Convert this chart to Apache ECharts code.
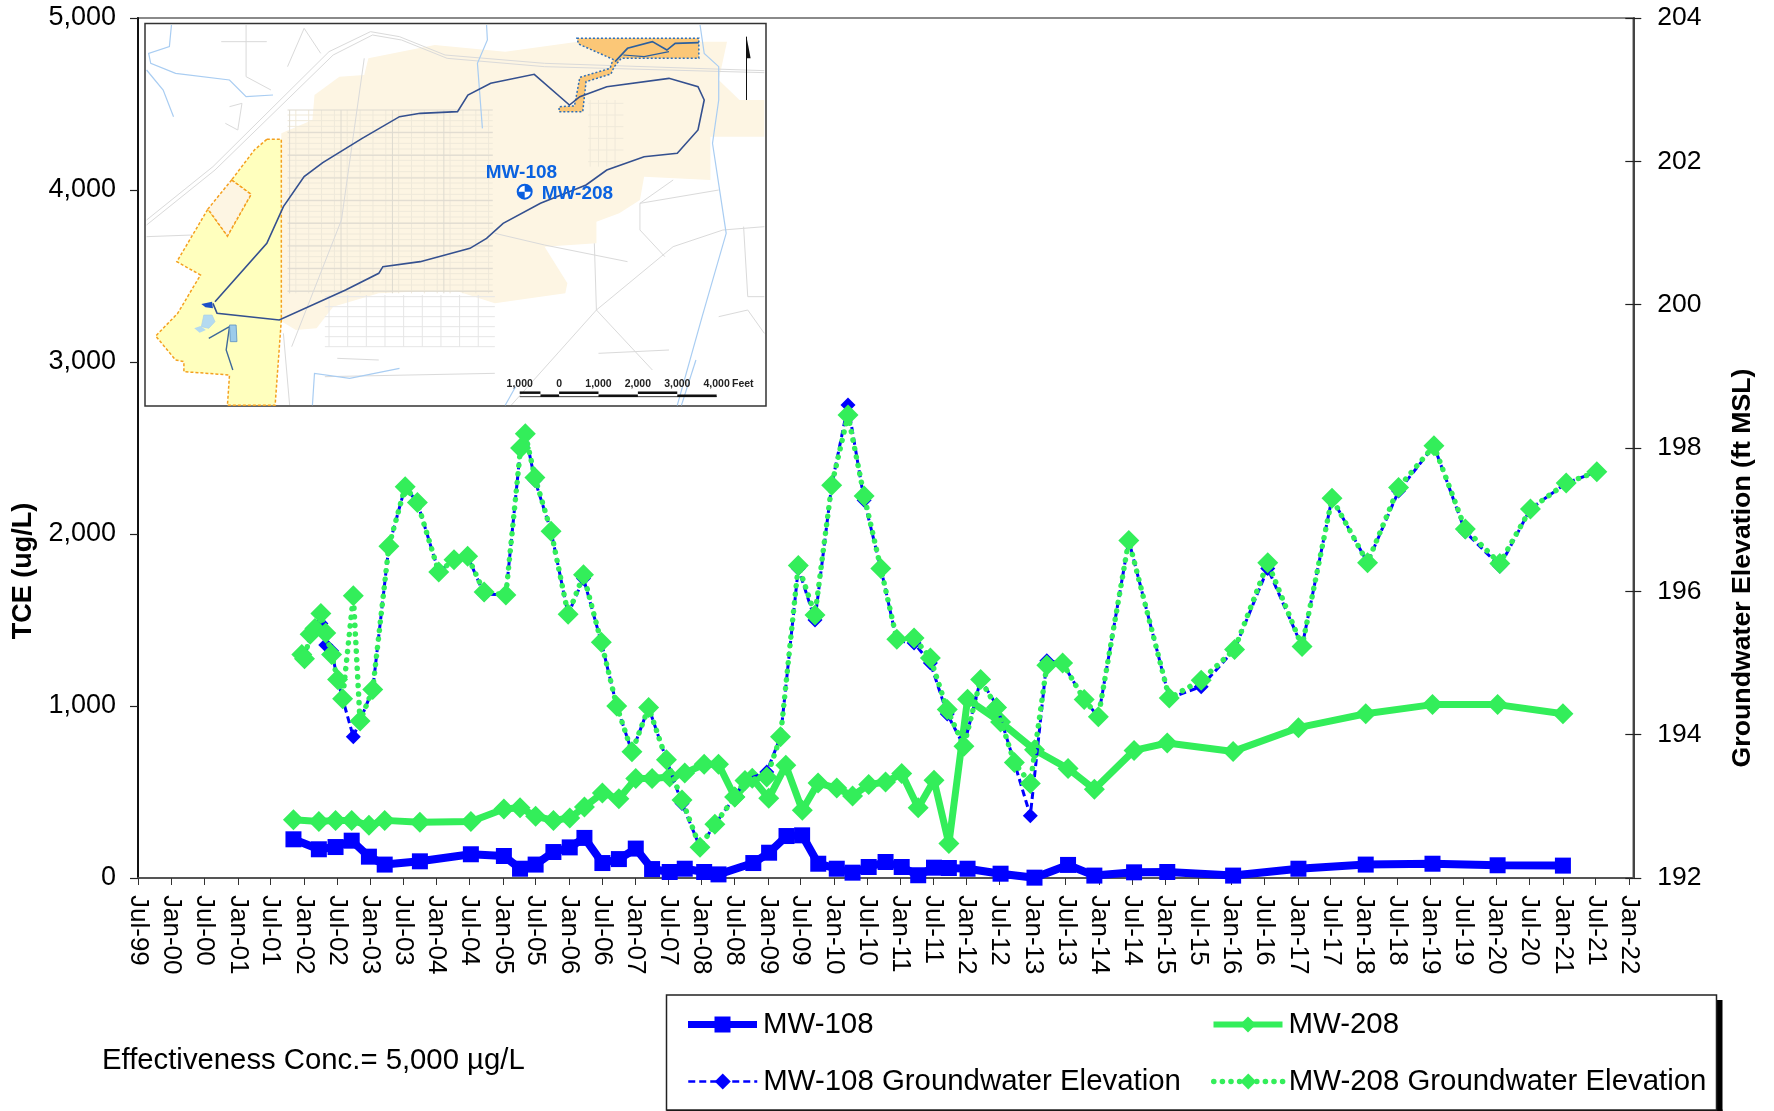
<!DOCTYPE html>
<html>
<head>
<meta charset="utf-8">
<style>html,body{margin:0;padding:0;background:#fff}#c{width:1774px;height:1111px}</style>
<script src="https://cdn.jsdelivr.net/npm/echarts@6/dist/echarts.min.js"></script>
</head>
<body>
<div id="c"></div>
<script>
// ---------- data ----------
const tickLabels = ['Jul-99','Jan-00','Jul-00','Jan-01','Jul-01','Jan-02','Jul-02','Jan-03','Jul-03','Jan-04','Jul-04','Jan-05','Jul-05','Jan-06','Jul-06','Jan-07','Jul-07','Jan-08','Jul-08','Jan-09','Jul-09','Jan-10','Jul-10','Jan-11','Jul-11','Jan-12','Jul-12','Jan-13','Jul-13','Jan-14','Jul-14','Jan-15','Jul-15','Jan-16','Jul-16','Jan-17','Jul-17','Jan-18','Jul-18','Jan-19','Jul-19','Jan-20','Jul-20','Jan-21','Jul-21','Jan-22'];

const conc108Dates = ['2001-11-04','2002-03-24','2002-06-24','2002-09-21','2002-12-25','2003-03-22','2003-10-02','2004-07-09','2005-01-07','2005-04-06','2005-07-01','2005-10-07','2006-01-05','2006-03-27','2006-07-04','2006-10-03','2007-01-04','2007-04-04','2007-07-10','2007-10-01','2008-01-16','2008-04-04','2008-10-13','2009-01-08','2009-04-14','2009-07-09','2009-10-06','2010-01-16','2010-04-13','2010-07-11','2010-10-12','2011-01-09','2011-04-10','2011-07-06','2011-09-26','2012-01-07','2012-07-07','2013-01-10','2013-07-14','2013-12-06','2014-07-13','2015-01-12','2016-01-10','2017-01-04','2018-01-10','2019-01-13','2020-01-07','2021-01-01'];
const conc108 = [225,167,180,217,124,78,97,138,128,54,78,151,178,233,87,110,171,52,35,54,35,21,87,147,244,248,83,54,31,64,93,64,16,60,58,54,25,2,76,14,33,35,14,54,78,83,74,72];

const conc208Dates = ['2001-11-04','2002-03-24','2002-06-24','2002-09-21','2002-12-25','2003-03-22','2003-10-02','2004-07-09','2005-01-07','2005-04-06','2005-07-01','2005-10-07','2006-01-05','2006-03-27','2006-07-04','2006-10-03','2007-01-04','2007-04-04','2007-07-10','2007-10-01','2008-01-16','2008-04-04','2008-07-03','2008-10-07','2009-01-06','2009-04-10','2009-07-10','2009-10-05','2010-01-16','2010-04-13','2010-07-11','2010-10-12','2011-01-09','2011-04-10','2011-07-06','2011-09-26','2012-01-07','2012-07-07','2013-01-10','2013-07-14','2013-12-06','2014-07-13','2015-01-12','2016-01-10','2017-01-04','2018-01-10','2019-01-13','2020-01-07','2021-01-01'];
const conc208 = [339,328,335,335,306,335,324,328,401,409,359,335,349,413,494,461,578,578,587,610,661,661,471,580,463,655,394,552,523,477,543,558,607,409,568,200,1039,907,746,636,516,742,785,736,874,955,1008,1008,955];

const elev108Dates = ['2001-12-20','2002-01-04','2002-02-04','2002-03-02','2002-04-04','2002-05-01','2002-06-02','2002-07-05','2002-08-02','2002-09-30','2003-01-15','2003-04-14','2003-07-13','2003-09-18','2004-01-14','2004-04-07','2004-06-21','2004-09-20','2005-01-18','2005-04-09','2005-05-05','2005-06-27','2005-09-24','2005-12-27','2006-03-22','2006-06-28','2006-09-21','2006-12-14','2007-03-16','2007-06-22','2007-09-16','2007-12-24','2008-03-15','2008-07-03','2008-08-28','2008-12-26','2009-03-12','2009-06-18','2009-09-18','2009-12-19','2010-03-19','2010-06-16','2010-09-16','2010-12-13','2011-03-18','2011-06-16','2011-09-17','2011-12-18','2012-03-19','2012-06-15','2012-09-21','2012-12-18','2013-03-19','2013-06-14','2013-10-11','2013-12-28','2014-06-14','2015-01-23','2015-07-18','2016-01-18','2016-07-19','2017-01-24','2017-07-08','2018-01-20','2018-07-10','2019-01-21','2019-07-13','2020-01-19','2020-07-06','2021-01-19','2021-07-07'];
const elev108 = [195.12,195.06,195.40,195.48,195.55,195.25,195.17,194.77,194.50,193.97,194.63,196.63,197.46,197.24,196.27,196.44,196.49,195.96,195.95,198.0,198.2,197.55,196.84,195.68,196.18,195.29,194.40,193.76,194.38,193.65,193.04,192.43,192.75,193.13,193.36,193.48,193.97,196.32,195.60,197.48,198.60,197.27,196.32,195.31,195.28,195.00,194.29,193.84,194.77,194.41,193.61,192.87,195.03,195.00,194.49,194.25,196.71,194.51,194.67,195.19,196.32,195.23,197.30,196.40,197.40,198.03,196.83,196.35,197.15,197.51,197.67];

const elev208Dates = ['2001-12-20','2002-01-04','2002-02-04','2002-03-02','2002-04-04','2002-05-01','2002-06-02','2002-07-05','2002-08-02','2002-09-30','2002-11-06','2003-01-15','2003-04-14','2003-07-13','2003-09-18','2004-01-14','2004-04-07','2004-06-21','2004-09-20','2005-01-18','2005-04-09','2005-05-05','2005-06-27','2005-09-24','2005-12-27','2006-03-22','2006-06-28','2006-09-21','2006-12-14','2007-03-16','2007-06-22','2007-09-16','2007-12-24','2008-03-15','2008-07-03','2008-08-28','2008-12-26','2009-03-12','2009-06-18','2009-09-18','2009-12-19','2010-03-19','2010-06-16','2010-09-16','2010-12-13','2011-03-18','2011-06-16','2011-09-17','2011-12-18','2012-03-19','2012-06-15','2012-09-21','2012-12-18','2013-03-19','2013-06-14','2013-10-11','2013-12-28','2014-06-14','2015-01-23','2015-07-18','2016-01-18','2016-07-19','2017-01-24','2017-07-08','2018-01-20','2018-07-10','2019-01-21','2019-07-13','2020-01-19','2020-07-06','2021-01-19','2021-07-07'];
const elev208 = [195.12,195.06,195.40,195.48,195.69,195.42,195.12,194.77,194.50,195.94,194.19,194.63,196.63,197.46,197.24,196.27,196.44,196.49,195.99,195.95,198.0,198.2,197.59,196.84,195.68,196.23,195.29,194.40,193.76,194.38,193.65,193.09,192.43,192.75,193.13,193.36,193.41,193.97,196.36,195.67,197.48,198.46,197.33,196.32,195.33,195.35,195.07,194.35,193.84,194.77,194.38,193.61,193.32,194.97,195.0,194.49,194.25,196.71,194.51,194.76,195.19,196.40,195.23,197.30,196.40,197.45,198.03,196.87,196.39,197.15,197.51,197.67];

const names = ['MW-108','MW-208','MW-108 Groundwater Elevation','MW-208 Groundwater Elevation'];
const noteText = 'Effectiveness Conc.= 5,000 µg/L';
const BLUE = '#0000FF', GREEN = '#33EE5A', FONT = '"Liberation Sans", Arial, sans-serif';

// ---------- time helpers ----------
const monthIdx = {Jan:0, Jul:6};
const labelTime = s => { const [m,y] = s.split('-'); const yy = +y > 50 ? 1900 + +y : 2000 + +y; return Date.UTC(yy, monthIdx[m], 1); };
const tickTimes = tickLabels.map(labelTime);
const dateTime = s => Date.parse(s + 'T00:00:00Z');
const pts = (d, v) => d.map((s, i) => [dateTime(s), v[i]]);

// ---------- inset map (decoration, in crop coordinates of the inset) ----------
const mx = z => 130 + z / 2.412, my = z => z / 3;
const mp = a => a.map(p => [mx(p[0]), my(p[1])]);
const gfx = [];
const poly = (a, style) => gfx.push({type:'polygon', silent:true, z:2, shape:{points:mp(a)}, style});
const line = (a, style) => gfx.push({type:'polyline', silent:true, z:2, shape:{points:mp(a)}, style:Object.assign({fill:null}, style)});
const txt = (x, y, text, size, color, weight, align) => gfx.push({type:'text', silent:true, z:3, x, y, style:{text, fill:color, font:`${weight||'normal'} ${size}px ${FONT}`, align:align||'left', verticalAlign:'middle'}});

gfx.push({type:'rect', silent:true, z:1, shape:{x:145,y:23.5,width:621,height:382.5}, style:{fill:'#fff', stroke:'#333', lineWidth:1.5}});
const beige = [[575,175],[735,135],[905,155],[1080,125],[1440,125],[1420,240],[1470,300],[1530,300],[1530,410],[1400,410],[1400,540],[1240,530],[1230,600],[1180,640],[1125,665],[1125,730],[1000,740],[1055,850],[1050,880],[880,910],[780,870],[600,880],[490,920],[450,985],[400,990],[360,960],[365,400],[440,360],[445,285],[505,230],[565,225]];
poly(beige, {fill:'#FDF5E3'});
const minorGrey = {stroke:'#EFE9DA', lineWidth:1};
for (let y = 345; y < 880; y += 17) line([[380, y], [875, y]], minorGrey);
for (let x = 400; x < 880; x += 31) line([[x, 330], [x, 880]], minorGrey);
const roadGrey = {stroke:'#DEDAD0', lineWidth:1};
for (let y = 330; y < 880; y += 68) line([[380, y], [875, y]], roadGrey);
for (let x = 385; x < 880; x += 124) line([[x, 330], [x, 880]], roadGrey);
const lightGrey = {stroke:'#E6E6E6', lineWidth:1};
for (let y = 890; y < 1045; y += 30) line([[470, y], [880, y]], lightGrey);
for (let x = 480; x < 885; x += 45) line([[x, 885], [x, 1040]], lightGrey);
for (let x = 1110; x < 1180; x += 20) line([[x, 300], [x, 500]], minorGrey);
for (let y = 310; y < 500; y += 35) line([[1105, y], [1190, y]], minorGrey);
[
 [[40,660],[200,500],[480,155],[580,95],[650,110],[760,165],[1000,190],[1530,212]],
 [[40,675],[205,510],[490,165],[585,105],[655,120],[765,175],[1000,200],[1530,218]],
 [[920,1215],[1125,930],[1310,740],[1430,690],[1530,680]],
 [[1125,930],[1260,1110]],[[1120,730],[1125,930]],[[880,700],[1000,735],[1200,785]],
 [[1310,540],[1230,610],[1230,690],[1290,770]],[[1230,610],[1420,570]],
 [[1130,1060],[1300,1050]],[[1480,680],[1490,890],[1530,890]],[[1420,950],[1490,930],[1530,1000]],
 [[220,125],[330,125]],[[280,75],[280,230],[340,270]],[[380,200],[420,85],[460,160]],
 [[240,320],[270,310],[260,390],[230,370]],[[40,710],[150,705]],[[500,1075],[600,1080]],[[470,1130],[880,1120]],
 [[565,175],[510,660],[390,1040]],[[370,1000],[385,1215]]
].forEach(a => line(a, {stroke:'#DADADA', lineWidth:1}));
// yellow parcel
const parcel = [[330,418],[365,418],[365,700],[365,960],[350,1216],[235,1216],[240,1125],[130,1115],[130,1085],[110,1080],[62,1008],[115,940],[170,825],[113,785],[188,627],[235,708],[292,583],[245,540],[300,450]];
poly(parcel, {fill:'#FFFFBE', stroke:'#F4A020', lineWidth:1.5, lineDash:[3,2]});
poly([[245,540],[292,583],[235,708],[188,627]], {fill:'#FDF5E3', stroke:'#F4A020', lineWidth:1.5, lineDash:[3,2]});
// orange recharge area
const orange = [[1078,115],[1372,115],[1372,175],[1185,175],[1168,200],[1160,222],[1100,245],[1092,335],[1035,335],[1035,320],[1072,318],[1085,232],[1158,205],[1165,178],[1082,132]];
poly(orange, {fill:'#FBC777', stroke:'#2E6FB8', lineWidth:1.5, lineDash:[2,2]});
// streams
const streamStyle = {stroke:'#A9CDF2', lineWidth:1.2};
[
 [[1375,75],[1385,160],[1420,200],[1420,300],[1405,430],[1438,700],[1380,950],[1320,1216]],
 [[860,75],[862,120],[838,190],[850,385]],
 [[100,75],[95,140],[45,160],[50,190],[110,220],[240,240],[280,290],[345,285]],
 [[40,210],[80,270],[105,350]],
 [[650,1105],[530,1135],[445,1120],[440,1216]],
 [[1365,1080],[1330,1216]],[[930,1160],[905,1216]]
].forEach(a => line(a, streamStyle));
// lakes and channels
line([[1170,185],[1200,145],[1260,125],[1295,150],[1315,130],[1372,128]], {stroke:'#2B5F9E', lineWidth:1.6});
line([[1190,165],[1240,170],[1300,155]], {stroke:'#2B5F9E', lineWidth:1.2});
line([[190,1015],[240,980],[232,1050],[248,1110]], {stroke:'#3F6A9A', lineWidth:1.4});
poly([[178,945],[198,945],[205,965],[190,985],[172,980]], {fill:'#B4DAF0', stroke:'#A5CDE8', lineWidth:0.6});
poly([[155,985],[170,978],[183,990],[168,998]], {fill:'#B4DAF0'});
poly([[240,975],[256,975],[258,1025],[242,1025]], {fill:'#9CCBEA', stroke:'#5C8FC0', lineWidth:0.8});
poly([[172,912],[198,905],[200,925],[182,922]], {fill:'#1B4FC8'});
// plume outline
const plume = [[205,905],[330,730],[370,620],[420,530],[465,488],[560,415],[650,350],[700,340],[790,335],[815,285],[870,250],[975,223],[1060,315],[1085,290],[1150,260],[1300,235],[1370,260],[1385,300],[1370,390],[1320,460],[1240,470],[1150,510],[1100,555],[990,610],[900,670],[860,715],[820,745],[700,785],[610,800],[600,820],[520,870],[360,960],[210,940],[200,910]];
line(plume, {stroke:'#34508F', lineWidth:1.6});
// north arrow
line([[1487,110],[1487,300]], {stroke:'#111', lineWidth:1});
poly([[1487,110],[1497,175],[1487,175]], {fill:'#111'});
// well symbol
const wx = mx(952), wy = my(575);
gfx.push({type:'circle', silent:true, z:3, shape:{cx:wx,cy:wy,r:7}, style:{fill:'#fff', stroke:'#0A5FE0', lineWidth:2}});
gfx.push({type:'sector', silent:true, z:3, shape:{cx:wx,cy:wy,r:7,startAngle:-Math.PI/2,endAngle:0}, style:{fill:'#0A5FE0'}});
gfx.push({type:'sector', silent:true, z:3, shape:{cx:wx,cy:wy,r:7,startAngle:Math.PI/2,endAngle:Math.PI}, style:{fill:'#0A5FE0'}});
txt(mx(858), my(518), 'MW-108', 19, '#0A62E0', 'bold');
txt(mx(993), my(582), 'MW-208', 19, '#0A62E0', 'bold');
// scale bar
[[940,990],[1035,1130],[1225,1320]].forEach(s => line([[s[0],1178],[s[1],1178]], {stroke:'#111', lineWidth:2.5}));
[[990,1035],[1130,1225],[1320,1415]].forEach(s => line([[s[0],1187],[s[1],1187]], {stroke:'#111', lineWidth:2.5}));
line([[940,1190],[1415,1190]], {stroke:'#111', lineWidth:0.8});
[[940,'1,000'],[1035,'0'],[1130,'1,000'],[1225,'2,000'],[1320,'3,000'],[1415,'4,000']].forEach(t => txt(mx(t[0]), my(1151), t[1], 10.5, '#222', 'bold', 'center'));
txt(mx(1452), my(1151), 'Feet', 10.5, '#222', 'bold');

// ---------- legend box and note ----------
gfx.push({type:'rect', silent:true, z:0, shape:{x:1716.5,y:1000,width:6,height:111}, style:{fill:'#000'}});
gfx.push({type:'rect', silent:true, z:0, shape:{x:666.5,y:1109.5,width:1056,height:2}, style:{fill:'#000'}});
gfx.push({type:'rect', silent:true, z:0, shape:{x:666.5,y:995,width:1050,height:115}, style:{fill:'#fff', stroke:'#222', lineWidth:1.5}});
gfx.push({type:'text', silent:true, x:102, y:1061, style:{text:noteText, fill:'#000', font:`29.3px ${FONT}`, verticalAlign:'middle'}});

// ---------- chart ----------
const legendAt = (name, left, top, width) => ({
  data:[name], left, top, orient:'horizontal', itemWidth:69, itemHeight:20, padding:0, itemGap:0, selectedMode:false,
  lineStyle:{width},
  textStyle:{fontFamily:FONT, fontSize:29.4, color:'#000', padding:[0,0,0,1]}
});
const yTick = {show:true, length:8, lineStyle:{color:'#222', width:1.2}};
const nameStyle = (pad, size) => ({color:'#000', fontFamily:FONT, fontSize:size, fontWeight:'bold', padding:pad});

const chart = echarts.init(document.getElementById('c'), null, {renderer:'canvas'});
chart.setOption({
  backgroundColor:'#fff',
  animation:false,
  grid:{left:138, right:140.7, top:18, bottom:233, show:true, borderColor:'#8A8A8A', borderWidth:2, backgroundColor:'transparent'},
  legend:[
    legendAt(names[0], 684.5, 1010, 7),
    legendAt(names[1], 1210.5, 1010, 6),
    legendAt(names[2], 687, 1067, 2.5),
    legendAt(names[3], 1211, 1067, 5.5)
  ],
  xAxis:{
    type:'value', min:tickTimes[0], max:Date.UTC(2022,0,24), scale:true,
    splitLine:{show:false},
    axisLine:{show:true, onZero:false, lineStyle:{color:'#555', width:2}},
    axisTick:{show:true, length:7, customValues:tickTimes, lineStyle:{color:'#333', width:1}},
    axisLabel:{
      customValues:tickTimes, rotate:-90, margin:17, color:'#000', fontFamily:FONT, fontSize:26, hideOverlap:false, showMinLabel:true, showMaxLabel:true,
      formatter:v => tickLabels[tickTimes.indexOf(v)] || ''
    }
  },
  yAxis:[
    {type:'value', position:'left', min:0, max:5000, interval:1000,
     name:'TCE (ug/L)', nameLocation:'middle', nameRotate:90, nameGap:98, nameTextStyle:nameStyle([0,246,0,0], 27),
     splitLine:{show:false},
     axisLine:{show:true, lineStyle:{color:'#111', width:2}}, axisTick:yTick,
     axisLabel:{color:'#000', fontFamily:FONT, fontSize:27, margin:22, padding:[4,0,0,0], formatter:v => v.toLocaleString('en-US')}},
    {type:'value', position:'right', min:192, max:204, interval:2,
     name:'Groundwater Elevation (ft MSL)', nameLocation:'middle', nameRotate:90, nameGap:96, nameTextStyle:nameStyle([0,240,0,0], 26.7),
     splitLine:{show:false},
     axisLine:{show:true, lineStyle:{color:'#444', width:2}}, axisTick:yTick,
     axisLabel:{color:'#000', fontFamily:FONT, fontSize:26.5, margin:24, padding:[2,0,0,0]}},
    {type:'value', position:'right', min:192, max:204, interval:2, splitLine:{show:false},
     axisLine:{show:false}, axisLabel:{show:false},
     axisTick:{show:true, inside:true, length:8, lineStyle:{color:'#222', width:1.2}}}
  ],
  series:[
    {name:names[0], type:'line', yAxisIndex:0, data:pts(conc108Dates, conc108), symbol:'rect', symbolSize:16, showAllSymbol:true,
     lineStyle:{color:BLUE, width:8}, itemStyle:{color:BLUE}, z:2},
    {name:names[1], type:'line', yAxisIndex:0, data:pts(conc208Dates, conc208), symbol:'diamond', symbolSize:21, showAllSymbol:true,
     lineStyle:{color:GREEN, width:7}, itemStyle:{color:GREEN}, z:3},
    {name:names[2], type:'line', yAxisIndex:1, data:pts(elev108Dates, elev108), symbol:'diamond', symbolSize:15, showAllSymbol:true,
     lineStyle:{color:BLUE, width:3, type:[7,4]}, itemStyle:{color:BLUE}, z:4},
    {name:names[3], type:'line', yAxisIndex:1, data:pts(elev208Dates, elev208), symbol:'diamond', symbolSize:21, showAllSymbol:true,
     lineStyle:{color:GREEN, width:5.5, type:[0.1,8.5], cap:'round'}, itemStyle:{color:GREEN}, z:5}
  ],
  graphic:gfx
});
</script>
</body>
</html>
